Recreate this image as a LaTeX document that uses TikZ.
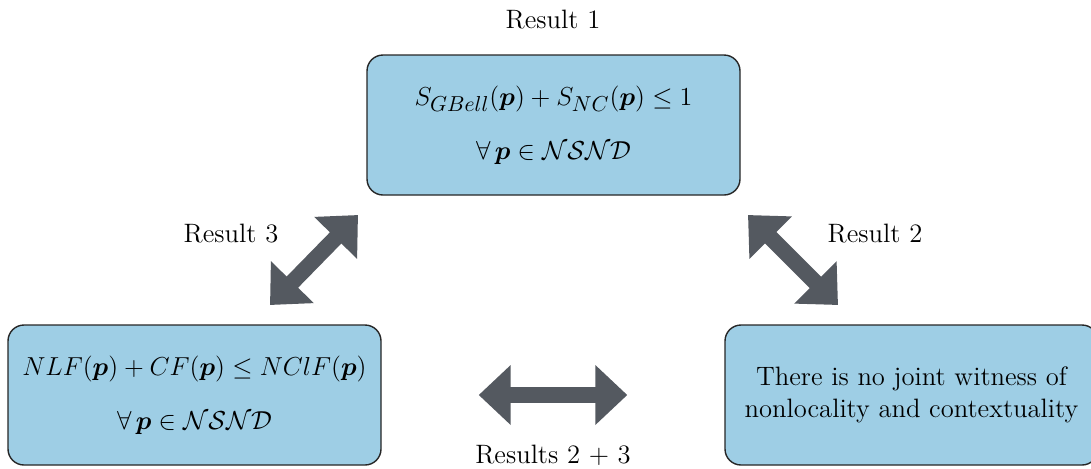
\RequirePackage{fix-cm}
\documentclass[tikz,border=0pt]{standalone}
\usepackage{amsmath,amssymb,bm}
\usetikzlibrary{arrows.meta}
\DeclareMathSizes{13}{13}{10.8}{7.6}
\definecolor{boxblue}{RGB}{158,206,229}
\definecolor{arrgrey}{RGB}{84,89,96}
\begin{document}
\begin{tikzpicture}[x=0.5pt,y=-0.5pt,
  box/.style={draw=black!85,line width=0.7pt,fill=boxblue,rounded corners=8pt,
    minimum width=186.5pt,minimum height=70pt,align=center,inner sep=0pt,
    font=\fontsize{13.3}{15.8}\selectfont},
  mathbox/.style={box,font=\fontsize{13}{15}\selectfont},
  lbl/.style={font=\fontsize{13.3}{15.8}\selectfont,inner sep=0pt},
  bigarrow/.style={draw=arrgrey,line width=8pt,
    {Triangle[width=29pt,length=16pt]}-{Triangle[width=29pt,length=16pt]}}]
\useasboundingbox (0,0) rectangle (1091,468);
\node[mathbox] (top) at (553.5,125) {$S_{GBell}(\bm{p}) + S_{NC}(\bm{p}) \leq 1$\\[12pt] $\forall\, \bm{p} \in \mathcal{NSND}$};
\node[mathbox] (bl) at (194.5,395) {$NLF(\bm{p}) + CF(\bm{p}) \leq NClF(\bm{p})$\\[12pt] $\forall\, \bm{p} \in \mathcal{NSND}$};
\node[box] (br) at (911.5,395) {There is no joint witness of\\nonlocality and contextuality};
\node[lbl] (r1) at (553,20) {Result 1};
\node[lbl] (r3) at (231,234) {Result 3};
\node[lbl] (r2) at (875,234) {Result 2};
\node[lbl] (r23) at (553,455) {Results 2 + 3};
\coordinate (a3s) at (270,305);
\coordinate (a3e) at (358,215);
\coordinate (a2s) at (748,215);
\coordinate (a2e) at (838,305);
\draw[bigarrow] (a3s) -- (a3e);
\draw[bigarrow] (a2s) -- (a2e);
\draw[bigarrow,shorten <=48.5pt,shorten >=48.5pt] (bl.east) -- (br.west);
\end{tikzpicture}
\end{document}
